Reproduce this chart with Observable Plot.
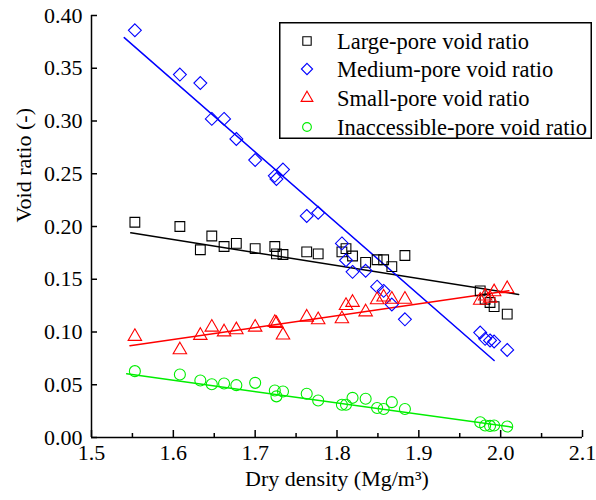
<!DOCTYPE html>
<html><head><meta charset="utf-8">
<script src="https://cdn.jsdelivr.net/npm/d3@7"></script>
<script src="https://cdn.jsdelivr.net/npm/@observablehq/plot@0.6"></script>
<style>
body{margin:0;background:#fff;font-family:"Liberation Serif","Times New Roman",serif;}
#wrap{position:relative;width:596px;height:500px;}
#legend{position:absolute;left:279px;top:22px;}
</style></head><body><div id="wrap"><div id="chart"></div><div id="legend"></div></div>
<script>
// Dry density of each sample (Mg/m3)
const density = [1.553,1.608,1.633,1.647,1.662,1.677,1.700,1.724,1.726,1.734,1.763,1.777,1.806,1.811,1.819,1.835,1.849,1.857,1.867,1.883,1.975,1.981,1.987,1.992,2.008];
const largePore = [0.204,0.200,0.178,0.191,0.181,0.184,0.179,0.181,0.174,0.1735,0.176,0.174,0.176,0.179,0.172,0.166,0.1685,0.1685,0.162,0.1725,0.139,0.131,0.128,0.124,0.117];
const mediumPore = [0.386,0.344,0.336,0.302,0.302,0.283,0.263,0.248,0.245,0.254,0.210,0.213,0.184,0.168,0.157,0.158,0.143,0.139,0.126,0.112,0.0995,0.0935,0.092,0.091,0.083];
const smallPore = [0.0957,0.083,0.0967,0.1045,0.100,0.102,0.1045,0.109,0.108,0.097,0.114,0.1115,0.1125,0.125,0.128,0.119,0.1305,0.133,0.131,0.131,0.130,0.134,0.132,0.138,0.141];
const inaccessiblePore = [0.0629,0.0597,0.054,0.0505,0.0512,0.0496,0.0518,0.0445,0.039,0.0436,0.0414,0.0351,0.031,0.031,0.0376,0.0367,0.028,0.027,0.0335,0.027,0.0145,0.0114,0.011,0.0114,0.0104];

// Linear fit lines (end points)
const fitLargeX = [1.548, 2.022], fitLargeY = [0.194, 0.1356];
const fitMediumX = [1.540, 1.992], fitMediumY = [0.379, 0.073];
const fitSmallX = [1.547, 2.010], fitSmallY = [0.087, 0.139];
const fitInaccX = [1.543, 2.014], fitInaccY = [0.0604, 0.0098];

const seriesNames = ["Large-pore void ratio","Medium-pore void ratio","Small-pore void ratio","Inaccessible-pore void ratio"];
const seriesColors = ["#000000","#0000ff","#ff0000","#00ee00"];
const seriesSymbols = ["square","diamond2","triangle","circle"];

const xMajor = [1.5,1.6,1.7,1.8,1.9,2.0,2.1];
const xMinor = [1.55,1.65,1.75,1.85,1.95,2.05];
const yTicks = [0,0.05,0.10,0.15,0.20,0.25,0.30,0.35,0.40];

const FONT = "Liberation Serif, Tinos, Times New Roman, DejaVu Serif, serif";
const pts = (ys) => density.map((d,i)=>({x:d, y:ys[i]}));
const fit = (xs, ys) => xs.map((x,i)=>({x, y:ys[i]}));
const allY = [largePore, mediumPore, smallPore, inaccessiblePore];
const fits = [fit(fitLargeX,fitLargeY), fit(fitMediumX,fitMediumY), fit(fitSmallX,fitSmallY), fit(fitInaccX,fitInaccY)];
const radii = [5.5, 5.8, 5, 5.5];

const marks = [
  Plot.ruleY([0], {stroke:"#000", strokeWidth:1.5}),
  Plot.ruleX([1.5], {stroke:"#000", strokeWidth:1.5}),
  Plot.axisX({ticks:xMajor, tickSize:0, tickPadding:7, tickFormat:d=>d.toFixed(1), label:null, fontFamily:FONT}),
  Plot.axisX({ticks:xMajor, tickSize:-7, text:null, label:null, strokeWidth:1.5}),
  Plot.axisX({ticks:xMinor, tickSize:-4, text:null, label:null, strokeWidth:1.5}),
  Plot.axisY({ticks:yTicks, tickSize:0, tickPadding:9, tickFormat:d=>d.toFixed(2), label:null, fontFamily:FONT}),
  Plot.axisY({ticks:yTicks, tickSize:-6, text:null, label:null, strokeWidth:1.5}),
  Plot.text(["Void ratio (-)"], {frameAnchor:"left", dx:-68, dy:-4, rotate:-90, fontSize:22, fontFamily:FONT}),
  Plot.text(["Dry density (Mg/m³)"], {frameAnchor:"bottom", dy:48, fontSize:22, fontFamily:FONT})
];
allY.forEach((ys,k)=>{
  marks.push(Plot.line(fits[k], {x:"x", y:"y", stroke:seriesColors[k], strokeWidth:1.5}));
});
allY.forEach((ys,k)=>{
  marks.push(Plot.dot(pts(ys), {x:"x", y:"y", symbol:()=>seriesSymbols[k], stroke:seriesColors[k], fill:"none", r:radii[k], strokeWidth:1.1}));
});

const chart = Plot.plot({
  width:596, height:500,
  marginLeft:91, marginRight:14, marginTop:15, marginBottom:63,
  x:{domain:[1.5,2.1]},
  y:{domain:[0,0.4]},
  symbol:{type:"identity"},
  style:{fontFamily:FONT, fontSize:"22px", color:"#000", background:"#fff"},
  marks
});
document.getElementById("chart").appendChild(chart);

// Legend
const lw = 313, lh = 117;
const lg = d3.select("#legend").append("svg").attr("width", lw).attr("height", lh);
lg.append("rect").attr("x",0.75).attr("y",0.75).attr("width",lw-1.5).attr("height",lh-1.5).attr("fill","#fff").attr("stroke","#000").attr("stroke-width",1.5);
const legSym = [d3.symbolSquare, d3.symbolDiamond2, d3.symbolTriangle, d3.symbolCircle];
const legSize = [70, 80, 60, 60];
const rowY = [19, 47, 76, 105];
seriesNames.forEach((name,k)=>{
  lg.append("path").attr("d", d3.symbol(legSym[k], legSize[k])()).attr("transform",`translate(28,${rowY[k]})`)
    .attr("fill","none").attr("stroke",seriesColors[k]).attr("stroke-width",1.1);
  lg.append("text").attr("x",58).attr("y",rowY[k]).attr("dy","0.35em")
    .attr("font-family",FONT).attr("font-size","22.5px").text(name);
});
</script></body></html>
